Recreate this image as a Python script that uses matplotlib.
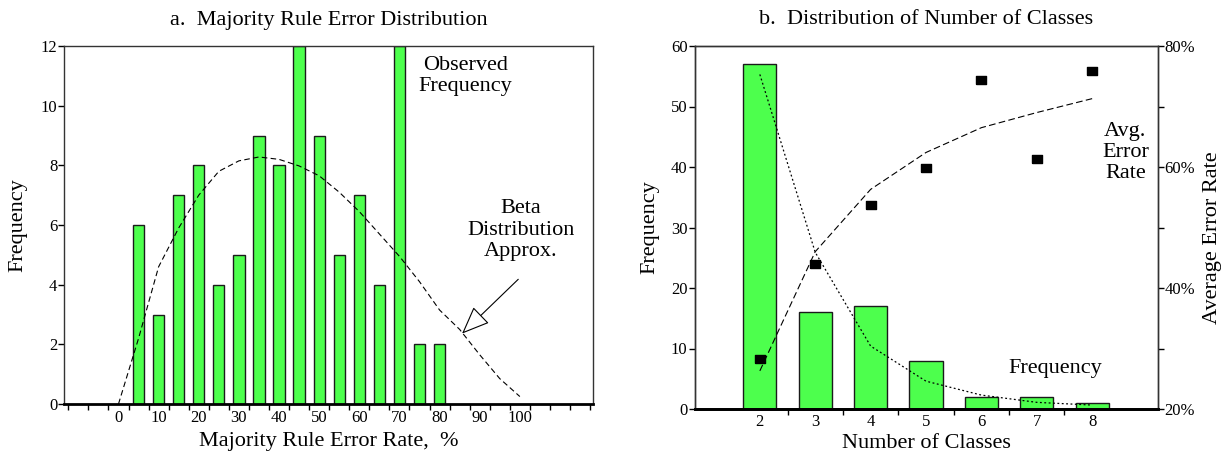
"""Two panel figure: majority rule error distribution and number of classes."""
import matplotlib

matplotlib.use("Agg")
import matplotlib.pyplot as plt
from matplotlib.ticker import FixedLocator, NullFormatter

plt.rcParams["font.family"] = ["Liberation Serif", "DejaVu Serif"]

# Panel a: observed frequency of majority rule error rate (bins every 5%)
error_bins = [5, 10, 15, 20, 25, 30, 35, 40, 45, 50, 55, 60, 65, 70, 75, 80]
error_freq = [6, 3, 7, 8, 4, 5, 9, 8, 12, 9, 5, 7, 4, 12, 2, 2]

# Beta distribution approximation
beta_x = [0, 5, 10, 15, 20, 25, 30, 35, 40, 45, 50,
          55, 60, 65, 70, 75, 80, 85, 90, 95, 100]
beta_y = [0.0, 2.2, 4.6, 5.9, 7.0, 7.8, 8.15, 8.28, 8.2, 7.98, 7.65,
          7.1, 6.45, 5.7, 4.95, 4.1, 3.15, 2.5, 1.65, 0.85, 0.25]

# Panel b: number of classes
n_classes = [2, 3, 4, 5, 6, 7, 8]
class_freq = [57, 16, 17, 8, 2, 2, 1]
freq_fit = [55.3, 25.9, 10.4, 4.6, 2.3, 1.1, 0.65]
avg_error = [28.3, 44.0, 53.7, 59.9, 74.3, 61.4, 75.8]
avg_error_fit = [26.3, 46.0, 56.3, 62.4, 66.5, 69.0, 71.3]

GREEN = "#4dff4d"
EDGE = "#1a1a1a"
W, H = 1227, 457

fig = plt.figure(figsize=(W / 100, H / 100), dpi=100)


def px_axes(x0, x1, y0, y1):
    """Axes from pixel box (top-left origin)."""
    return fig.add_axes([x0 / W, 1 - y1 / H, (x1 - x0) / W, (y1 - y0) / H])


def style_spines(ax):
    for side in ("left", "right", "top"):
        ax.spines[side].set_color("#333333")
        ax.spines[side].set_linewidth(1.0)
    ax.spines["bottom"].set_color("black")
    ax.spines["bottom"].set_linewidth(2.0)


# ---------------- panel a ----------------
ax = px_axes(64.3, 593.3, 46, 404)
ax.bar(error_bins, error_freq, width=2.8, color=GREEN, edgecolor=EDGE,
       linewidth=1.0, zorder=2)
ax.plot(beta_x, beta_y, color="black", linestyle=(0, (5, 3)), linewidth=0.8,
        zorder=3)
ax.set_xlim(-13.5, 118.3)
ax.set_ylim(0, 12)
ax.set_yticks(range(0, 13, 2))
ax.xaxis.set_major_locator(FixedLocator(list(range(0, 101, 10))))
ax.xaxis.set_minor_locator(FixedLocator([-12.5 + 5 * k for k in range(27)]))
ax.xaxis.set_minor_formatter(NullFormatter())
ax.tick_params(axis="x", which="major", length=0, labelsize=12, pad=4)
ax.tick_params(axis="x", which="minor", length=4, width=1, direction="out")
ax.tick_params(axis="y", length=4, width=1, labelsize=12, pad=1)
style_spines(ax)

ax.text(86.5, 11.0, "Observed\nFrequency", fontsize=16, ha="center",
        va="center", linespacing=1.15)
ax.text(100.3, 5.83, "Beta\nDistribution\nApprox.", fontsize=16,
        ha="center", va="center", linespacing=1.15)
ax.annotate("", xy=(85.6, 2.36), xytext=(99.6, 4.18),
            arrowprops=dict(arrowstyle="-|>,head_length=1.1,head_width=0.45",
                            mutation_scale=16, fc="white", ec="black",
                            lw=0.8, shrinkA=0, shrinkB=0))

fig.text(328.8 / W, 1 - 20 / H, "a.  Majority Rule Error Distribution",
         fontsize=16, ha="center", va="center")
fig.text(328.8 / W, 1 - 441.5 / H, "Majority Rule Error Rate,  %",
         fontsize=16, ha="center", va="center")
fig.text(18 / W, 1 - 225 / H, "Frequency", fontsize=16, rotation=90,
         ha="center", va="center")

# ---------------- panel b ----------------
bx = px_axes(694.5, 1157.5, 46, 409)
bx.bar(n_classes, class_freq, width=0.6, color=GREEN, edgecolor=EDGE,
       linewidth=1.0, zorder=2)
bx.plot(n_classes, freq_fit, color="black", linestyle=(0, (1.5, 2)),
        linewidth=0.9, zorder=3)
bx.set_xlim(0.82, 9.18)
bx.set_ylim(0, 60)
bx.set_yticks(range(0, 61, 10))
bx.xaxis.set_major_locator(FixedLocator(n_classes))
bx.xaxis.set_minor_locator(FixedLocator([2.5, 3.5, 4.5, 5.5, 6.5, 7.5]))
bx.xaxis.set_minor_formatter(NullFormatter())
bx.tick_params(axis="x", which="major", length=0, labelsize=12, pad=3.5)
bx.tick_params(axis="x", which="minor", length=4, width=1, direction="out")
bx.tick_params(axis="y", length=4, width=1, labelsize=12, pad=1)
style_spines(bx)

b2 = bx.twinx()
sq = [(-1, -0.8), (1, -0.8), (1, 0.8), (-1, 0.8), (-1, -0.8)]
b2.plot(n_classes, avg_error_fit, color="black", linestyle=(0, (6, 3)),
        linewidth=0.8, zorder=3)
b2.plot(n_classes, avg_error, linestyle="none", marker=sq, markersize=6.5,
        color="black", zorder=4)
b2.set_ylim(20, 80)
b2.set_yticks([20, 40, 60, 80])
b2.set_yticklabels(["20%", "40%", "60%", "80%"])
b2.yaxis.set_minor_locator(FixedLocator([30, 50, 70]))
b2.tick_params(axis="y", which="both", length=4, width=1, labelsize=12,
               pad=1)
style_spines(b2)

bx.text(7.34, 6.65, "Frequency", fontsize=16, ha="center", va="center")
b2.text(8.6, 62.4, "Avg.\nError\nRate", fontsize=16, ha="center",
        va="center", linespacing=1.15)

fig.text(926 / W, 1 - 20 / H, "b.  Distribution of Number of Classes",
         fontsize=16, ha="center", va="center")
fig.text(926 / W, 1 - 443.6 / H, "Number of Classes", fontsize=16,
         ha="center", va="center")
fig.text(650 / W, 1 - 227 / H, "Frequency", fontsize=16, rotation=90,
         ha="center", va="center")
fig.text(1213 / W, 1 - 238 / H, "Average Error Rate", fontsize=16,
         rotation=90, ha="center", va="center")

fig.savefig("out.png", dpi=100)
